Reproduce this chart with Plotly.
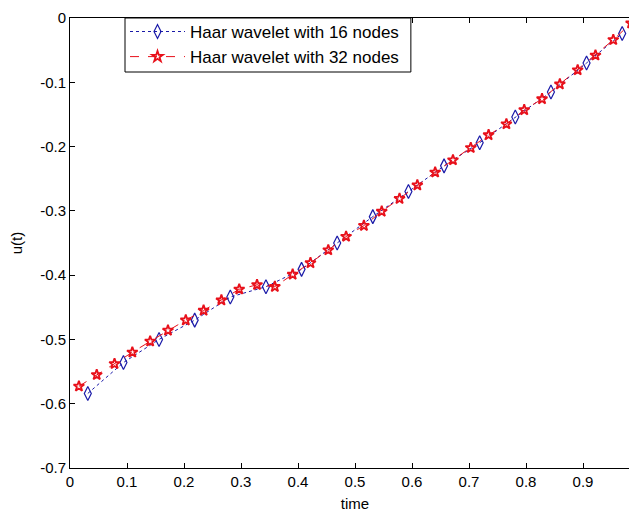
import plotly.graph_objects as go

# 16-node Haar wavelet solution
x16 = [0.03125, 0.09375, 0.15625, 0.21875, 0.28125, 0.34375, 0.40625, 0.46875,
       0.53125, 0.59375, 0.65625, 0.71875, 0.78125, 0.84375, 0.90625, 0.96875]
u16 = [-0.584, -0.536, -0.500, -0.470, -0.434, -0.418, -0.391, -0.350,
       -0.309, -0.270, -0.230, -0.194, -0.154, -0.115, -0.070, -0.024]

# 32-node Haar wavelet solution
x32 = [0.015625, 0.046875, 0.078125, 0.109375, 0.140625, 0.171875, 0.203125, 0.234375,
       0.265625, 0.296875, 0.328125, 0.359375, 0.390625, 0.421875, 0.453125, 0.484375,
       0.515625, 0.546875, 0.578125, 0.609375, 0.640625, 0.671875, 0.703125, 0.734375,
       0.765625, 0.796875, 0.828125, 0.859375, 0.890625, 0.921875, 0.953125, 0.984375]
u32 = [-0.573, -0.555, -0.538, -0.520, -0.503, -0.486, -0.470, -0.455,
       -0.439, -0.422, -0.415, -0.418, -0.399, -0.381, -0.361, -0.340,
       -0.323, -0.301, -0.281, -0.260, -0.240, -0.221, -0.202, -0.182,
       -0.165, -0.143, -0.126, -0.103, -0.081, -0.058, -0.034, -0.008]

xtick_vals = [0, 0.1, 0.2, 0.3, 0.4, 0.5, 0.6, 0.7, 0.8, 0.9]
xtick_text = ["0", "0.1", "0.2", "0.3", "0.4", "0.5", "0.6", "0.7", "0.8", "0.9"]
ytick_vals = [0, -0.1, -0.2, -0.3, -0.4, -0.5, -0.6, -0.7]
ytick_text = ["0", "-0.1", "-0.2", "-0.3", "-0.4", "-0.5", "-0.6", "-0.7"]

FONT = "Liberation Sans, Arial, Helvetica, sans-serif"

fig = go.Figure()
fig.add_trace(go.Scatter(
    x=x16, y=u16, mode="lines+markers", name="Haar wavelet with 16 nodes",
    line=dict(color="#1a1aa8", width=1, dash="dot"),
    marker=dict(symbol="diamond-tall-open", size=10, color="#1a1aa8",
                line=dict(width=1.2, color="#1a1aa8")),
))
fig.add_trace(go.Scatter(
    x=x32, y=u32, mode="lines+markers", name="Haar wavelet with 32 nodes",
    line=dict(color="#e8101a", width=1, dash="dash"),
    marker=dict(symbol="star-open", size=8, color="#e8101a",
                line=dict(width=1.8, color="#e8101a")),
))

axis_common = dict(
    showline=True, linecolor="black", linewidth=1, mirror="ticks",
    ticks="inside", ticklen=5, tickcolor="black", tickwidth=1,
    showgrid=False, zeroline=False, automargin=False,
    tickfont=dict(family=FONT, size=15, color="black"),
)

# legend frame (drawn as a paper-space rectangle)
fig.add_shape(type="rect", xref="paper", yref="paper",
              x0=0.0965, x1=0.598, y0=0.88, y1=1.0,
              line=dict(color="black", width=1), fillcolor="white", layer="above")

fig.update_layout(
    width=637, height=505,
    margin=dict(l=62, r=5, t=10, b=45),
    paper_bgcolor="white", plot_bgcolor="white",
    font=dict(family=FONT, size=15, color="black"),
    xaxis=dict(range=[0, 1.0], tickvals=xtick_vals, ticktext=xtick_text,
               title=dict(text="time", standoff=9, font=dict(size=15)), **axis_common),
    yaxis=dict(range=[-0.7, 0], tickvals=ytick_vals, ticktext=ytick_text,
               title=dict(text="u(t)", standoff=26, font=dict(size=15)), **axis_common),
    legend=dict(
        x=0.0965, y=1.009, xanchor="left", yanchor="top",
        bgcolor="rgba(0,0,0,0)", borderwidth=0,
        font=dict(family=FONT, size=17, color="black"),
        itemwidth=55,
    ),
    showlegend=True,
)

fig.write_html("out.html")
